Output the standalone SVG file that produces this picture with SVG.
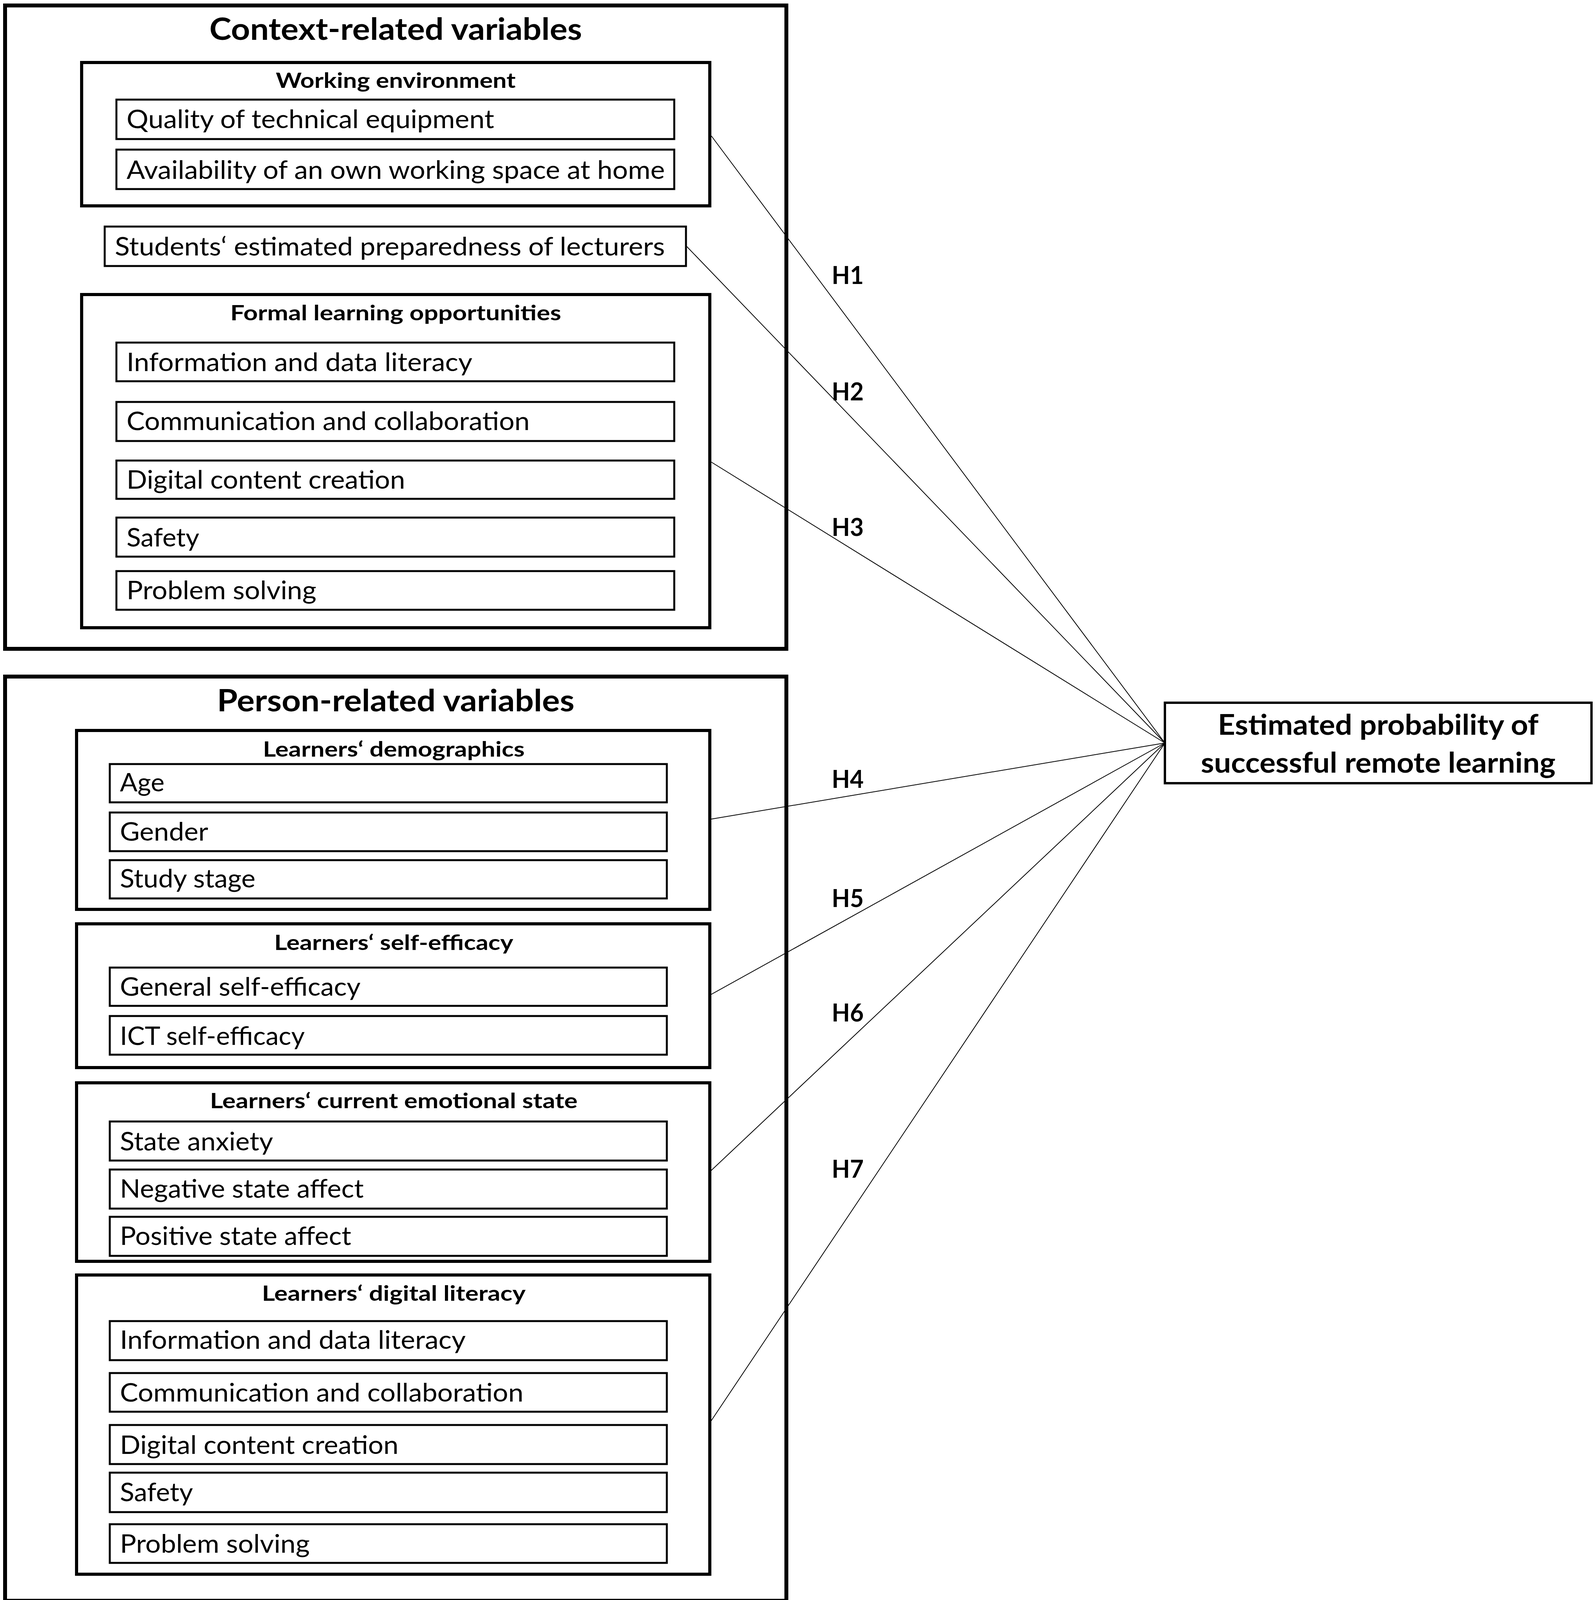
<svg xmlns="http://www.w3.org/2000/svg" width="4083" height="4108" viewBox="0 0 4083 4108">
<style>
text{font-family:Lato,"Liberation Sans",sans-serif;fill:#000}
.t1{font-size:78px;font-weight:bold;text-anchor:middle}
.t2{font-size:54px;font-weight:bold;text-anchor:middle}
.it{font-size:66px}
.h{font-size:63px;font-weight:bold}
.tg{font-size:72px;font-weight:bold;text-anchor:middle}
.outer{fill:none;stroke:#000;stroke-width:10}
.grp{fill:none;stroke:#000;stroke-width:8}
.box{fill:#fff;stroke:#000;stroke-width:5}
.con line{stroke:#000;stroke-width:2}
</style>
<rect width="4083" height="4108" fill="#fff"/>
<g class="con">
<line x1="1821" y1="348" x2="2982" y2="1902"/>
<line x1="1757" y1="630" x2="2982" y2="1902"/>
<line x1="1821" y1="1183" x2="2982" y2="1902"/>
<line x1="1820" y1="2097" x2="2982" y2="1902"/>
<line x1="1820" y1="2546" x2="2982" y2="1902"/>
<line x1="1820" y1="2997" x2="2982" y2="1902"/>
<line x1="1820" y1="3638" x2="2982" y2="1902"/>
</g>
<g id="context">
<rect class="outer" x="13" y="14" width="2000" height="1647"/>
<text class="t1" x="1013" y="102" textLength="954" lengthAdjust="spacingAndGlyphs">Context-related variables</text>
</g>
<g id="working-environment">
<rect class="grp" x="209" y="160" width="1608" height="367"/>
<text class="t2" x="1013" y="225" textLength="614" lengthAdjust="spacingAndGlyphs">Working environment</text>
</g>
<g id="quality"><rect class="box" x="298" y="255" width="1428" height="101"/><text class="it" x="324" y="328" textLength="941" lengthAdjust="spacingAndGlyphs">Quality of technical equipment</text></g>
<g id="availability"><rect class="box" x="298" y="383" width="1428" height="101"/><text class="it" x="324" y="458" textLength="1378" lengthAdjust="spacingAndGlyphs">Availability of an own working space at home</text></g>
<g id="students"><rect class="box" x="268" y="580" width="1488" height="101"/><text class="it" x="294" y="654" textLength="1408" lengthAdjust="spacingAndGlyphs">Students‘ estimated preparedness of lecturers</text></g>
<g id="formal-learning">
<rect class="grp" x="209" y="754" width="1608" height="853"/>
<text class="t2" x="1013" y="820" textLength="847" lengthAdjust="spacingAndGlyphs">Formal learning opportunities</text>
</g>
<g id="f-info"><rect class="box" x="298" y="877" width="1428" height="99"/><text class="it" x="324" y="950" textLength="885" lengthAdjust="spacingAndGlyphs">Information and data literacy</text></g>
<g id="f-comm"><rect class="box" x="298" y="1029" width="1428" height="100"/><text class="it" x="324" y="1101" textLength="1032" lengthAdjust="spacingAndGlyphs">Communication and collaboration</text></g>
<g id="f-digital"><rect class="box" x="298" y="1179" width="1428" height="98"/><text class="it" x="324" y="1251" textLength="713" lengthAdjust="spacingAndGlyphs">Digital content creation</text></g>
<g id="f-safety"><rect class="box" x="298" y="1325" width="1428" height="100"/><text class="it" x="324" y="1399" textLength="186" lengthAdjust="spacingAndGlyphs">Safety</text></g>
<g id="f-problem"><rect class="box" x="298" y="1462" width="1428" height="99"/><text class="it" x="324" y="1534" textLength="486" lengthAdjust="spacingAndGlyphs">Problem solving</text></g>

<g id="person">
<rect class="outer" x="13" y="1732" width="2000" height="2366"/>
<text class="t1" x="1013" y="1821" textLength="915" lengthAdjust="spacingAndGlyphs">Person-related variables</text>
</g>
<g id="demographics">
<rect class="grp" x="196" y="1870" width="1621" height="458"/>
<text class="t2" x="1008" y="1937" textLength="670" lengthAdjust="spacingAndGlyphs">Learners‘ demographics</text>
</g>
<g id="age"><rect class="box" x="281" y="1956" width="1426" height="98"/><text class="it" x="307" y="2026" textLength="114" lengthAdjust="spacingAndGlyphs">Age</text></g>
<g id="gender"><rect class="box" x="281" y="2080" width="1426" height="99"/><text class="it" x="307" y="2152" textLength="226" lengthAdjust="spacingAndGlyphs">Gender</text></g>
<g id="study"><rect class="box" x="281" y="2202" width="1426" height="98"/><text class="it" x="307" y="2272" textLength="347" lengthAdjust="spacingAndGlyphs">Study stage</text></g>
<g id="self-efficacy">
<rect class="grp" x="196" y="2365" width="1621" height="368"/>
<text class="t2" x="1008" y="2432" textLength="612" lengthAdjust="spacingAndGlyphs">Learners‘ self-efficacy</text>
</g>
<g id="general-se"><rect class="box" x="281" y="2477" width="1426" height="98"/><text class="it" x="307" y="2549" textLength="616" lengthAdjust="spacingAndGlyphs">General self-efficacy</text></g>
<g id="ict-se"><rect class="box" x="281" y="2601" width="1426" height="99"/><text class="it" x="307" y="2675" textLength="473" lengthAdjust="spacingAndGlyphs">ICT self-efficacy</text></g>
<g id="emotional">
<rect class="grp" x="196" y="2772" width="1621" height="457"/>
<text class="t2" x="1008" y="2837" textLength="941" lengthAdjust="spacingAndGlyphs">Learners‘ current emotional state</text>
</g>
<g id="anxiety"><rect class="box" x="281" y="2871" width="1426" height="100"/><text class="it" x="307" y="2945" textLength="392" lengthAdjust="spacingAndGlyphs">State anxiety</text></g>
<g id="negative"><rect class="box" x="281" y="2994" width="1426" height="100"/><text class="it" x="307" y="3066" textLength="624" lengthAdjust="spacingAndGlyphs">Negative state affect</text></g>
<g id="positive"><rect class="box" x="281" y="3115" width="1426" height="100"/><text class="it" x="307" y="3187" textLength="592" lengthAdjust="spacingAndGlyphs">Positive state affect</text></g>
<g id="digital-literacy">
<rect class="grp" x="196" y="3264" width="1621" height="766"/>
<text class="t2" x="1008" y="3330" textLength="675" lengthAdjust="spacingAndGlyphs">Learners‘ digital literacy</text>
</g>
<g id="p-info"><rect class="box" x="281" y="3382" width="1426" height="100"/><text class="it" x="307" y="3453" textLength="885" lengthAdjust="spacingAndGlyphs">Information and data literacy</text></g>
<g id="p-comm"><rect class="box" x="281" y="3515" width="1426" height="99"/><text class="it" x="307" y="3588" textLength="1033" lengthAdjust="spacingAndGlyphs">Communication and collaboration</text></g>
<g id="p-digital"><rect class="box" x="281" y="3648" width="1426" height="100"/><text class="it" x="307" y="3722" textLength="713" lengthAdjust="spacingAndGlyphs">Digital content creation</text></g>
<g id="p-safety"><rect class="box" x="281" y="3770" width="1426" height="101"/><text class="it" x="307" y="3843" textLength="187" lengthAdjust="spacingAndGlyphs">Safety</text></g>
<g id="p-problem"><rect class="box" x="281" y="3902" width="1426" height="99"/><text class="it" x="307" y="3975" textLength="486" lengthAdjust="spacingAndGlyphs">Problem solving</text></g>

<g id="target">
<rect class="box" x="2982" y="1799" width="1092" height="206" style="stroke-width:6"/>
<text class="tg" x="3528" y="1881" textLength="821" lengthAdjust="spacingAndGlyphs">Estimated probability of</text>
<text class="tg" x="3528" y="1978" textLength="908" lengthAdjust="spacingAndGlyphs">successful remote learning</text>
</g>
<g id="labels">
<text class="h" x="2129" y="727" textLength="82" lengthAdjust="spacingAndGlyphs">H1</text>
<text class="h" x="2129" y="1025" textLength="82" lengthAdjust="spacingAndGlyphs">H2</text>
<text class="h" x="2129" y="1372" textLength="82" lengthAdjust="spacingAndGlyphs">H3</text>
<text class="h" x="2129" y="2017" textLength="82" lengthAdjust="spacingAndGlyphs">H4</text>
<text class="h" x="2129" y="2322" textLength="82" lengthAdjust="spacingAndGlyphs">H5</text>
<text class="h" x="2129" y="2615" textLength="82" lengthAdjust="spacingAndGlyphs">H6</text>
<text class="h" x="2129" y="3015" textLength="82" lengthAdjust="spacingAndGlyphs">H7</text>
</g>
</svg>
